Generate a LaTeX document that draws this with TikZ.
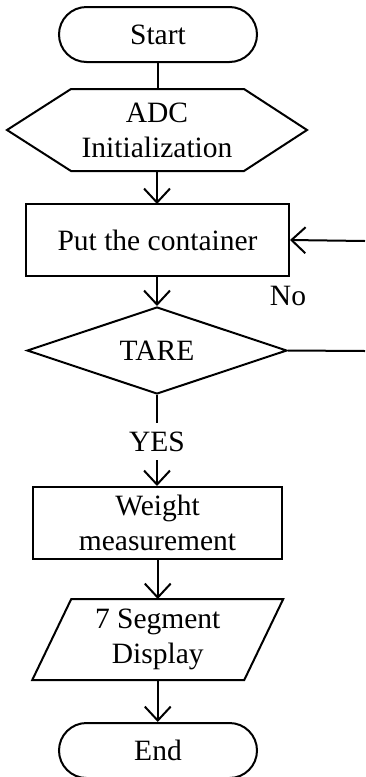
\documentclass[tikz,border=0pt]{standalone}
\usepackage{fontspec}
\setmainfont{Liberation Serif}
\usetikzlibrary{arrows.meta,shapes.geometric}
\begin{document}
\begin{tikzpicture}[x=1pt,y=-1pt,line width=2pt,
  font=\fontsize{29.5}{35}\selectfont,
  term/.style={draw,line width=2pt,rounded corners=27.5pt,minimum width=198pt,minimum height=55pt,inner sep=0pt},
  procbox/.style={draw,line width=2pt,minimum height=72pt,inner sep=0pt,align=center},
  ghost/.style={inner sep=0pt,align=center},
  tarebox/.style={draw,line width=2pt,diamond,aspect=3,minimum width=260pt,minimum height=87pt,inner sep=0pt},
  arr/.style={-{Straight Barb[length=14pt,width=26pt,line width=2pt]}},
  lbl/.style={inner sep=0pt}]
\useasboundingbox (0,0) rectangle (365,777);
\node[term] (start) at (158,34.5) {Start};
\node[ghost,minimum width=298pt,minimum height=80pt] (adc) at (157,130) {ADC\\Initialization};
\draw[line width=2pt] ([xshift=64pt]adc.north west) -- (adc.west) -- ([xshift=64pt]adc.south west)
  -- ([xshift=-63pt]adc.south east) -- (adc.east) -- ([xshift=-63pt]adc.north east) -- cycle;
\node[procbox,minimum width=263pt] (put) at (157.5,240) {Put the container};
\node[tarebox] (tare) at (157,350.5) {TARE};
\node[procbox,minimum width=249pt] (weight) at (157.5,523) {Weight\\measurement};
\node[ghost,minimum width=249pt,minimum height=79pt] (disp) at (157.75,639.5) {7 Segment\\Display};
\draw[line width=2pt] ([xshift=39pt]disp.north west) -- (disp.north east) -- ([xshift=-39pt]disp.south east)
  -- (disp.south west) -- cycle;
\node[term] (end) at (158,750.5) {End};
\node[lbl] (no) at (288,296) {No};
\node[lbl] (yes) at (157,442) {YES};
\coordinate (rin) at (365,241);
\coordinate (rout) at (365,351);
\coordinate (yestop) at (157,423);
\coordinate (yesbot) at (157,460);
\draw (start.south) -- (start.south |- adc.north);
\draw[arr] (157,170) -- (157,204);
\draw[arr] (rin) -- (put.east);
\draw[arr] (put.south -| tare.north) -- (tare.north);
\draw (tare.east) -- (rout);
\draw (tare.south) -- (yestop);
\draw[arr] (yesbot) -- (yesbot |- weight.north);
\draw[arr] (weight.south -| disp.north) -- (disp.north);
\draw[arr] (disp.south) -- (disp.south |- end.north);
\end{tikzpicture}
\end{document}
